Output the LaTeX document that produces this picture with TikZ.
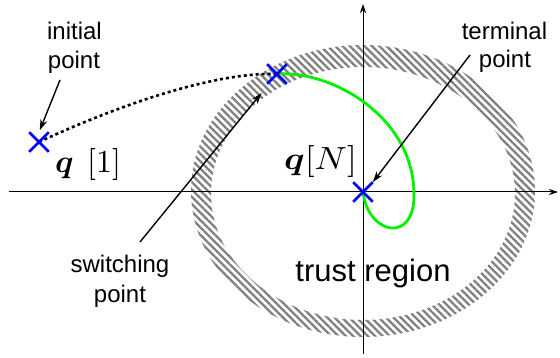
\documentclass[tikz,border=0pt]{standalone}
\usepackage{amsmath}
\usepackage{bm}
\usepackage[no-math]{fontspec}
\newfontfamily\labfont{Liberation Sans}
\usetikzlibrary{patterns.meta,arrows.meta,shapes.misc}
\pgfdeclarelayer{fg}
\pgfsetlayers{main,fg}
\begin{document}
\begin{tikzpicture}[x=1pt,y=-1pt,
  lab/.style={font=\labfont\fontsize{24}{29}\selectfont, anchor=base, inner sep=0pt},
  big/.style={font=\labfont\fontsize{31}{36}\selectfont, anchor=base, inner sep=0pt},
  mathlab/.style={anchor=base west, inner sep=0pt},
  xmark/.style={cross out, draw={rgb,255:red,0;green,0;blue,255}, line width=2.6pt, minimum size=17pt, inner sep=0pt},
  axis/.style={line width=1pt, -{Stealth[length=9pt,width=6pt]}},
  callout/.style={line width=1.4pt, -{Stealth[length=11pt,width=7pt]}},
  ring/.style={pattern={Lines[angle=-45,distance=5.2pt,line width=2.3pt]}, pattern color=black!50, even odd rule},
  path1/.style={line width=2.6pt, dash pattern=on 3pt off 3pt},
  path2/.style={line width=2.8pt, draw={rgb,255:red,0;green,240;blue,0}},
]
\useasboundingbox (0,0) rectangle (560,358);
\coordinate (O) at (363,192);
\coordinate (Oout) at (363,191);
\coordinate (Oin) at (363,193.5);
\begin{pgfonlayer}{fg}
\node[xmark] (init) at (39,142) {};
\node[xmark] (sw) at (277,74) {};
\node[xmark] (term) at (O) {};
\end{pgfonlayer}
% trust region ring
\fill[ring] (Oout) ellipse [x radius=172, y radius=146] (Oin) ellipse [x radius=152, y radius=126.5];
% axes
\draw[axis] (9,192) -- (558,192);
\draw[axis] (363,354) -- (363,4);
% trajectories
\draw[path1] (init.center) .. controls (130,100) and (220,72) .. (sw.center);
\draw[path2] (sw.center) .. controls (330,70) and (412,115) .. (414,192) .. controls (416,245) and (368,235) .. (term.center);
% callouts
\coordinate (initT) at (60,80);
\coordinate (swT) at (140,242);
\coordinate (termT) at (470,55);
\draw[callout, shorten >=2pt] (initT) -- (init.north);
\draw[callout, shorten >=11.8pt] (swT) -- (sw);
\draw[callout] (termT) -- (term.north east);
% labels
\node[lab] (initA) at (74.5,40) {initial};
\node[lab] (initB) at (74,69) {point};
\node[lab] (termA) at (504.5,40) {terminal};
\node[lab] (termB) at (505,68) {point};
\node[lab] (swA) at (120,273) {switching};
\node[lab] (swB) at (120,302) {point};
\node[big] (tr) at (373,282) {trust region};
\node[mathlab] (q1) at (55,172.5) {\scalebox{3.2}{$\bm{q}\hspace{0.42em}[1]$}};
\node[mathlab] (qN) at (284,170) {\scalebox{3.55}[3.2]{$\bm{q}[N]$}};
\end{tikzpicture}
\end{document}
